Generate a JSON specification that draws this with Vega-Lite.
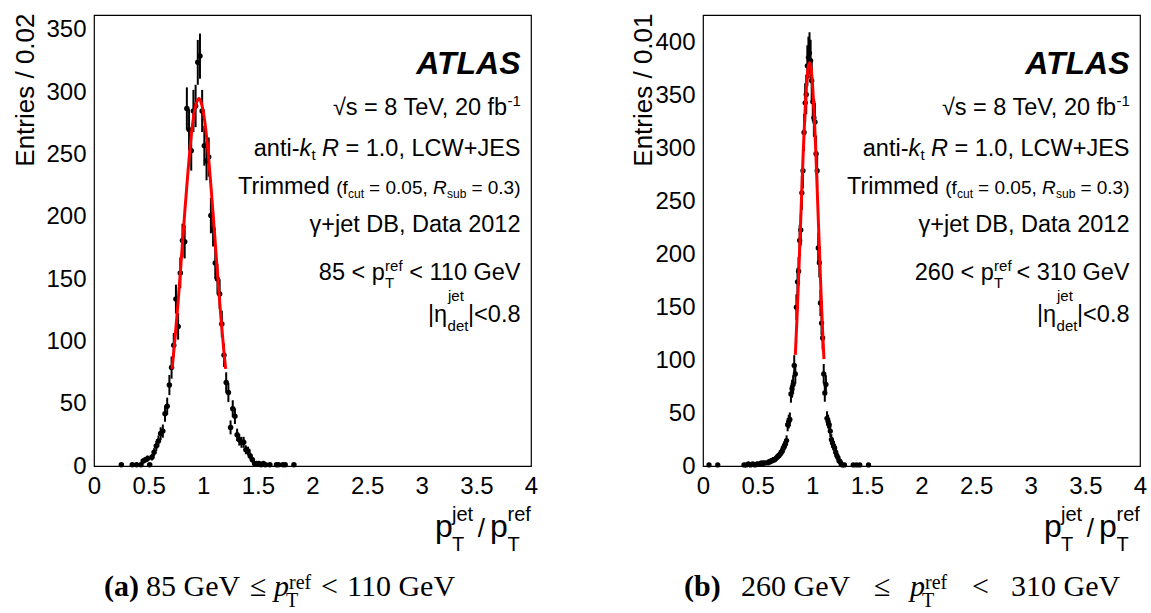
{
"$schema": "https://vega.github.io/schema/vega-lite/v6.json",
"background": "white",
"padding": {"left": 11, "top": 4, "right": 0, "bottom": 0},
"datasets": {
"a": [{"x":0.25,"y":1,"e":1},{"x":0.35,"y":1,"e":1},{"x":0.39,"y":1,"e":1},{"x":0.43,"y":1,"e":1},{"x":0.45,"y":4,"e":2},{"x":0.47,"y":5,"e":2.2},{"x":0.49,"y":6,"e":2.4},{"x":0.51,"y":1,"e":1},{"x":0.53,"y":7,"e":2.6},{"x":0.55,"y":11,"e":3.3},{"x":0.57,"y":16,"e":4},{"x":0.59,"y":20,"e":4.5},{"x":0.61,"y":26,"e":5.1},{"x":0.63,"y":28,"e":5.3},{"x":0.65,"y":42,"e":6.5},{"x":0.67,"y":48,"e":6.9},{"x":0.69,"y":65,"e":8.1},{"x":0.71,"y":79,"e":8.9},{"x":0.73,"y":97,"e":9.8},{"x":0.75,"y":134,"e":11.6},{"x":0.77,"y":112,"e":10.6},{"x":0.79,"y":155,"e":12.4},{"x":0.81,"y":181,"e":13.5},{"x":0.83,"y":180,"e":13.4},{"x":0.85,"y":287,"e":16.9},{"x":0.87,"y":270,"e":16.4},{"x":0.89,"y":253,"e":15.9},{"x":0.91,"y":285,"e":16.9},{"x":0.93,"y":289,"e":17},{"x":0.95,"y":324,"e":18},{"x":0.97,"y":329,"e":18.1},{"x":0.99,"y":285,"e":16.9},{"x":1.01,"y":257,"e":16},{"x":1.03,"y":245,"e":15.7},{"x":1.05,"y":248,"e":15.7},{"x":1.07,"y":201,"e":14.2},{"x":1.09,"y":190,"e":13.8},{"x":1.11,"y":163,"e":12.8},{"x":1.13,"y":150,"e":12.2},{"x":1.15,"y":138,"e":11.7},{"x":1.17,"y":114,"e":10.7},{"x":1.19,"y":89,"e":9.4},{"x":1.21,"y":67,"e":8.2},{"x":1.23,"y":59,"e":7.7},{"x":1.25,"y":31,"e":5.6},{"x":1.27,"y":46,"e":6.8},{"x":1.29,"y":40,"e":6.3},{"x":1.31,"y":25,"e":5},{"x":1.33,"y":21,"e":4.6},{"x":1.35,"y":19,"e":4.4},{"x":1.37,"y":19,"e":4.4},{"x":1.39,"y":13,"e":3.6},{"x":1.41,"y":12,"e":3.5},{"x":1.43,"y":8,"e":2.8},{"x":1.45,"y":5,"e":2.2},{"x":1.47,"y":2,"e":1.4},{"x":1.49,"y":2,"e":1.4},{"x":1.51,"y":2,"e":1.4},{"x":1.53,"y":1,"e":1},{"x":1.55,"y":2,"e":1.4},{"x":1.57,"y":1,"e":1},{"x":1.61,"y":1,"e":1},{"x":1.67,"y":1,"e":1},{"x":1.69,"y":1,"e":1},{"x":1.73,"y":1,"e":1},{"x":1.75,"y":1,"e":1},{"x":1.83,"y":1,"e":1}],
"b": [{"x":0.055,"y":1,"e":1},{"x":0.135,"y":1,"e":1},{"x":0.375,"y":1,"e":1},{"x":0.395,"y":1,"e":1},{"x":0.415,"y":2,"e":1.4},{"x":0.435,"y":1,"e":1},{"x":0.455,"y":2,"e":1.4},{"x":0.475,"y":1,"e":1},{"x":0.495,"y":2,"e":1.4},{"x":0.515,"y":2,"e":1.4},{"x":0.535,"y":3,"e":1.7},{"x":0.545,"y":2,"e":1.4},{"x":0.555,"y":3,"e":1.7},{"x":0.575,"y":3,"e":1.7},{"x":0.595,"y":3,"e":1.7},{"x":0.605,"y":4,"e":2},{"x":0.615,"y":4,"e":2},{"x":0.625,"y":5,"e":2.2},{"x":0.635,"y":5,"e":2.2},{"x":0.645,"y":6,"e":2.4},{"x":0.655,"y":6,"e":2.4},{"x":0.665,"y":7,"e":2.6},{"x":0.675,"y":8,"e":2.8},{"x":0.685,"y":9,"e":3},{"x":0.695,"y":10,"e":3.2},{"x":0.705,"y":11,"e":3.3},{"x":0.715,"y":13,"e":3.6},{"x":0.725,"y":14,"e":3.7},{"x":0.735,"y":17,"e":4.1},{"x":0.745,"y":19,"e":4.4},{"x":0.755,"y":21,"e":4.6},{"x":0.765,"y":24,"e":4.9},{"x":0.775,"y":39,"e":6.2},{"x":0.785,"y":42,"e":6.5},{"x":0.795,"y":44,"e":6.6},{"x":0.805,"y":68,"e":8.2},{"x":0.815,"y":73,"e":8.5},{"x":0.825,"y":77,"e":8.8},{"x":0.835,"y":95,"e":9.7},{"x":0.845,"y":87,"e":9.3},{"x":0.855,"y":150,"e":12.2},{"x":0.865,"y":174,"e":13.2},{"x":0.875,"y":184,"e":13.6},{"x":0.885,"y":213,"e":14.6},{"x":0.895,"y":223,"e":14.9},{"x":0.905,"y":258,"e":16.1},{"x":0.915,"y":279,"e":16.7},{"x":0.925,"y":315,"e":17.7},{"x":0.935,"y":343,"e":18.5},{"x":0.945,"y":351,"e":18.7},{"x":0.955,"y":378,"e":19.4},{"x":0.965,"y":386,"e":19.6},{"x":0.975,"y":390,"e":19.7},{"x":0.985,"y":383,"e":19.6},{"x":0.995,"y":364,"e":19.1},{"x":1.005,"y":344,"e":18.5},{"x":1.015,"y":329,"e":18.1},{"x":1.025,"y":325,"e":18},{"x":1.035,"y":295,"e":17.2},{"x":1.045,"y":279,"e":16.7},{"x":1.055,"y":206,"e":14.4},{"x":1.065,"y":192,"e":13.9},{"x":1.075,"y":154,"e":12.4},{"x":1.085,"y":135,"e":11.6},{"x":1.095,"y":121,"e":11},{"x":1.105,"y":87,"e":9.3},{"x":1.115,"y":69,"e":8.3},{"x":1.125,"y":77,"e":8.8},{"x":1.135,"y":45,"e":6.7},{"x":1.145,"y":42,"e":6.5},{"x":1.155,"y":39,"e":6.2},{"x":1.165,"y":33,"e":5.7},{"x":1.175,"y":25,"e":5},{"x":1.185,"y":22,"e":4.7},{"x":1.195,"y":19,"e":4.4},{"x":1.205,"y":17,"e":4.1},{"x":1.215,"y":13,"e":3.6},{"x":1.225,"y":10,"e":3.2},{"x":1.235,"y":8,"e":2.8},{"x":1.245,"y":5,"e":2.2},{"x":1.255,"y":4,"e":2},{"x":1.265,"y":2,"e":1.4},{"x":1.275,"y":1,"e":1},{"x":1.295,"y":1,"e":1},{"x":1.375,"y":1,"e":1},{"x":1.405,"y":1,"e":1},{"x":1.435,"y":1,"e":1},{"x":1.515,"y":1,"e":1}],
"fa": [{"x":0.715,"y":78},{"x":0.74,"y":101},{"x":0.77,"y":132},{"x":0.8,"y":167},{"x":0.83,"y":203},{"x":0.86,"y":236},{"x":0.89,"y":265},{"x":0.92,"y":285},{"x":0.95,"y":294},{"x":0.96,"y":295},{"x":0.98,"y":292},{"x":1.01,"y":279},{"x":1.04,"y":256},{"x":1.07,"y":225},{"x":1.1,"y":191},{"x":1.13,"y":155},{"x":1.16,"y":121},{"x":1.19,"y":91},{"x":1.205,"y":78}],
"fb": [{"x":0.845,"y":105},{"x":0.86,"y":139},{"x":0.875,"y":178},{"x":0.89,"y":220},{"x":0.905,"y":262},{"x":0.92,"y":303},{"x":0.935,"y":337},{"x":0.95,"y":363},{"x":0.965,"y":378},{"x":0.975,"y":381},{"x":0.99,"y":375},{"x":1.005,"y":356},{"x":1.02,"y":327},{"x":1.035,"y":290},{"x":1.05,"y":248},{"x":1.065,"y":206},{"x":1.08,"y":164},{"x":1.095,"y":127},{"x":1.107,"y":101}]
},
"hconcat": [
{
"width": 437, "height": 451,
"data": {"values": [{}]},
"resolve": {"axis": {"x": "independent", "y": "independent"}},
"layer": [
{"data": {"name": "a"}, "mark": {"type": "errorbar", "color": "black", "thickness": 2},
 "encoding": {"x": {"field": "x", "type": "quantitative", "axis": null, "scale": {"domain": [0, 4], "nice": false, "zero": false}}, "y": {"field": "y", "type": "quantitative", "axis": null, "scale": {"domain": [0, 362], "nice": false}}, "yError": {"field": "e"}}},
{"data": {"name": "a"}, "mark": {"type": "point", "filled": true, "color": "black", "size": 30, "opacity": 1},
 "encoding": {
  "x": {"field": "x", "type": "quantitative", "scale": {"domain": [0, 4], "nice": false, "zero": false},
   "axis": {"orient": "bottom", "values": [0,0.1,0.2,0.3,0.4,0.5,0.6,0.7,0.8,0.9,1,1.1,1.2,1.3,1.4,1.5,1.6,1.7,1.8,1.9,2,2.1,2.2,2.3,2.4,2.5,2.6,2.7,2.8,2.9,3,3.1,3.2,3.3,3.4,3.5,3.6,3.7,3.8,3.9,4],
    "labelExpr": "round(datum.value*10)%5===0 ? ''+datum.value : ''", "labelFont": "Liberation Sans", "labelFontSize": 24, "labelColor": "black", "labelPadding": 8, "labelFlush": false, "labelOverlap": false,
    "tickSize": 0, "tickColor": "black", "domain": false, "grid": false, "title": null,
    "encode": {"ticks": {"update": {"y2": {"signal": "round(datum.value*10)%5===0 ? -12 : -7"}}}}}},
  "y": {"field": "y", "type": "quantitative", "scale": {"domain": [0, 362], "nice": false},
   "axis": {"orient": "left", "values": [0,10,20,30,40,50,60,70,80,90,100,110,120,130,140,150,160,170,180,190,200,210,220,230,240,250,260,270,280,290,300,310,320,330,340,350,360],
    "labelExpr": "datum.value%50===0 ? ''+datum.value : ''", "labelFont": "Liberation Sans", "labelFontSize": 24, "labelColor": "black", "labelPadding": 8, "labelFlush": false, "labelOverlap": false,
    "tickSize": 0, "tickColor": "black", "domain": false, "grid": false,
    "title": "Entries / 0.02", "titleFont": "Liberation Sans", "titleFontSize": 26, "titleFontWeight": "normal", "titleColor": "black", "titleAngle": 270, "titleAlign": "right", "titleBaseline": "alphabetic", "titleX": -61, "titleY": -2,
    "encode": {"ticks": {"update": {"x2": {"signal": "datum.value%50===0 ? 13 : 7"}}}}}}
 }},
{"data": {"name": "fa"}, "mark": {"type": "line", "color": "#ff0000", "strokeWidth": 3, "interpolate": "monotone"},
 "encoding": {
  "x": {"field": "x", "type": "quantitative",
   "axis": {"orient": "top", "values": [0,0.1,0.2,0.3,0.4,0.5,0.6,0.7,0.8,0.9,1,1.1,1.2,1.3,1.4,1.5,1.6,1.7,1.8,1.9,2,2.1,2.2,2.3,2.4,2.5,2.6,2.7,2.8,2.9,3,3.1,3.2,3.3,3.4,3.5,3.6,3.7,3.8,3.9,4], "labels": false, "tickSize": 0, "tickColor": "black", "domain": false, "grid": false, "title": null,
    "encode": {"ticks": {"update": {"y2": {"signal": "round(datum.value*10)%5===0 ? 12 : 7"}}}}}},
  "y": {"field": "y", "type": "quantitative",
   "axis": {"orient": "right", "values": [0,10,20,30,40,50,60,70,80,90,100,110,120,130,140,150,160,170,180,190,200,210,220,230,240,250,260,270,280,290,300,310,320,330,340,350,360], "labels": false, "tickSize": 0, "tickColor": "black", "domain": false, "grid": false, "title": null,
    "encode": {"ticks": {"update": {"x2": {"signal": "datum.value%50===0 ? -13 : -7"}}}}}}
 }},
{"mark": {"type": "text", "text": "ATLAS", "align": "right", "baseline": "alphabetic", "fontSize": 32, "fontWeight": "bold", "fontStyle": "italic"}, "encoding": {"x": {"datum": 3.904, "axis": null}, "y": {"datum": 314.6, "axis": null}}},
{"mark": {"type": "text", "text": "√s = 8 TeV, 20 fb", "align": "right", "baseline": "alphabetic", "fontSize": 23.5}, "encoding": {"x": {"datum": 3.782, "axis": null}, "y": {"datum": 281.7, "axis": null}}},
{"mark": {"type": "text", "text": "-1", "align": "left", "baseline": "alphabetic", "fontSize": 15}, "encoding": {"x": {"datum": 3.785, "axis": null}, "y": {"datum": 288.9, "axis": null}}},
{"mark": {"type": "text", "text": "anti-", "align": "right", "baseline": "alphabetic", "fontSize": 23.5}, "encoding": {"x": {"datum": 1.881, "axis": null}, "y": {"datum": 248.8, "axis": null}}},
{"mark": {"type": "text", "text": "k", "align": "right", "baseline": "alphabetic", "fontSize": 23.5, "fontStyle": "italic"}, "encoding": {"x": {"datum": 1.988, "axis": null}, "y": {"datum": 248.8, "axis": null}}},
{"mark": {"type": "text", "text": "t", "align": "left", "baseline": "alphabetic", "fontSize": 15}, "encoding": {"x": {"datum": 1.991, "axis": null}, "y": {"datum": 245.6, "axis": null}}},
{"mark": {"type": "text", "text": "R", "align": "right", "baseline": "alphabetic", "fontSize": 23.5, "fontStyle": "italic"}, "encoding": {"x": {"datum": 2.242, "axis": null}, "y": {"datum": 248.8, "axis": null}}},
{"mark": {"type": "text", "text": "= 1.0, LCW+JES", "align": "right", "baseline": "alphabetic", "fontSize": 23.5}, "encoding": {"x": {"datum": 3.904, "axis": null}, "y": {"datum": 248.8, "axis": null}}},
{"mark": {"type": "text", "text": "Trimmed", "align": "right", "baseline": "alphabetic", "fontSize": 23.5}, "encoding": {"x": {"datum": 2.158, "axis": null}, "y": {"datum": 218.3, "axis": null}}},
{"mark": {"type": "text", "text": "(f", "align": "right", "baseline": "alphabetic", "fontSize": 19}, "encoding": {"x": {"datum": 2.324, "axis": null}, "y": {"datum": 218.3, "axis": null}}},
{"mark": {"type": "text", "text": "cut", "align": "left", "baseline": "alphabetic", "fontSize": 12}, "encoding": {"x": {"datum": 2.325, "axis": null}, "y": {"datum": 215.1, "axis": null}}},
{"mark": {"type": "text", "text": "= 0.05,", "align": "right", "baseline": "alphabetic", "fontSize": 19}, "encoding": {"x": {"datum": 3.055, "axis": null}, "y": {"datum": 218.3, "axis": null}}},
{"mark": {"type": "text", "text": "R", "align": "right", "baseline": "alphabetic", "fontSize": 19, "fontStyle": "italic"}, "encoding": {"x": {"datum": 3.229, "axis": null}, "y": {"datum": 218.3, "axis": null}}},
{"mark": {"type": "text", "text": "sub", "align": "left", "baseline": "alphabetic", "fontSize": 12}, "encoding": {"x": {"datum": 3.231, "axis": null}, "y": {"datum": 215.1, "axis": null}}},
{"mark": {"type": "text", "text": "= 0.3)", "align": "right", "baseline": "alphabetic", "fontSize": 19}, "encoding": {"x": {"datum": 3.904, "axis": null}, "y": {"datum": 218.3, "axis": null}}},
{"mark": {"type": "text", "text": "γ+jet DB, Data 2012", "align": "right", "baseline": "alphabetic", "fontSize": 23.5}, "encoding": {"x": {"datum": 3.904, "axis": null}, "y": {"datum": 187.8, "axis": null}}},
{"mark": {"type": "text", "text": "85 < p", "align": "right", "baseline": "alphabetic", "fontSize": 23.5}, "encoding": {"x": {"datum": 2.662, "axis": null}, "y": {"datum": 149.3, "axis": null}}},
{"mark": {"type": "text", "text": "ref", "align": "left", "baseline": "alphabetic", "fontSize": 15}, "encoding": {"x": {"datum": 2.664, "axis": null}, "y": {"datum": 156.5, "axis": null}}},
{"mark": {"type": "text", "text": "T", "align": "left", "baseline": "alphabetic", "fontSize": 15}, "encoding": {"x": {"datum": 2.664, "axis": null}, "y": {"datum": 142.9, "axis": null}}},
{"mark": {"type": "text", "text": "< 110 GeV", "align": "right", "baseline": "alphabetic", "fontSize": 23.5}, "encoding": {"x": {"datum": 3.904, "axis": null}, "y": {"datum": 149.3, "axis": null}}},
{"mark": {"type": "text", "text": "|η", "align": "right", "baseline": "alphabetic", "fontSize": 23.5}, "encoding": {"x": {"datum": 3.232, "axis": null}, "y": {"datum": 115.6, "axis": null}}},
{"mark": {"type": "text", "text": "jet", "align": "left", "baseline": "alphabetic", "fontSize": 15}, "encoding": {"x": {"datum": 3.24, "axis": null}, "y": {"datum": 132.4, "axis": null}}},
{"mark": {"type": "text", "text": "det", "align": "left", "baseline": "alphabetic", "fontSize": 15}, "encoding": {"x": {"datum": 3.236, "axis": null}, "y": {"datum": 108.4, "axis": null}}},
{"mark": {"type": "text", "text": "|<0.8", "align": "right", "baseline": "alphabetic", "fontSize": 23.5}, "encoding": {"x": {"datum": 3.904, "axis": null}, "y": {"datum": 115.6, "axis": null}}},
{"mark": {"type": "text", "text": "p", "align": "left", "baseline": "alphabetic", "fontSize": 32}, "encoding": {"x": {"datum": 3.121, "axis": null}, "y": {"datum": -57.0, "axis": null}}},
{"mark": {"type": "text", "text": "jet", "align": "left", "baseline": "alphabetic", "fontSize": 20}, "encoding": {"x": {"datum": 3.277, "axis": null}, "y": {"datum": -44.1, "axis": null}}},
{"mark": {"type": "text", "text": "T", "align": "left", "baseline": "alphabetic", "fontSize": 20}, "encoding": {"x": {"datum": 3.277, "axis": null}, "y": {"datum": -68.2, "axis": null}}},
{"mark": {"type": "text", "text": "/", "align": "center", "baseline": "alphabetic", "fontSize": 26}, "encoding": {"x": {"datum": 3.545, "axis": null}, "y": {"datum": -57.0, "axis": null}}},
{"mark": {"type": "text", "text": "p", "align": "left", "baseline": "alphabetic", "fontSize": 32}, "encoding": {"x": {"datum": 3.625, "axis": null}, "y": {"datum": -57.0, "axis": null}}},
{"mark": {"type": "text", "text": "ref", "align": "left", "baseline": "alphabetic", "fontSize": 20}, "encoding": {"x": {"datum": 3.785, "axis": null}, "y": {"datum": -44.1, "axis": null}}},
{"mark": {"type": "text", "text": "T", "align": "left", "baseline": "alphabetic", "fontSize": 20}, "encoding": {"x": {"datum": 3.785, "axis": null}, "y": {"datum": -68.2, "axis": null}}},
{"mark": {"type": "text", "text": "(a)", "align": "left", "baseline": "alphabetic", "fontSize": 30, "font": "Liberation Serif", "fontWeight": "bold"}, "encoding": {"x": {"datum": 0.0915, "axis": null}, "y": {"datum": -104.3, "axis": null}}},
{"mark": {"type": "text", "text": "85 GeV", "align": "left", "baseline": "alphabetic", "fontSize": 30, "font": "Liberation Serif"}, "encoding": {"x": {"datum": 0.476, "axis": null}, "y": {"datum": -104.3, "axis": null}}},
{"mark": {"type": "text", "text": "≤", "align": "left", "baseline": "alphabetic", "fontSize": 30, "font": "Liberation Serif"}, "encoding": {"x": {"datum": 1.428, "axis": null}, "y": {"datum": -104.3, "axis": null}}},
{"mark": {"type": "text", "text": "p", "align": "left", "baseline": "alphabetic", "fontSize": 30, "font": "Liberation Serif", "fontStyle": "italic"}, "encoding": {"x": {"datum": 1.648, "axis": null}, "y": {"datum": -104.3, "axis": null}}},
{"mark": {"type": "text", "text": "ref", "align": "left", "baseline": "alphabetic", "fontSize": 20, "font": "Liberation Serif"}, "encoding": {"x": {"datum": 1.785, "axis": null}, "y": {"datum": -98.7, "axis": null}}},
{"mark": {"type": "text", "text": "T", "align": "left", "baseline": "alphabetic", "fontSize": 20, "font": "Liberation Serif"}, "encoding": {"x": {"datum": 1.757, "axis": null}, "y": {"datum": -113.0, "axis": null}}},
{"mark": {"type": "text", "text": "<", "align": "left", "baseline": "alphabetic", "fontSize": 30, "font": "Liberation Serif"}, "encoding": {"x": {"datum": 2.078, "axis": null}, "y": {"datum": -104.3, "axis": null}}},
{"mark": {"type": "text", "text": "110 GeV", "align": "left", "baseline": "alphabetic", "fontSize": 30, "font": "Liberation Serif"}, "encoding": {"x": {"datum": 2.316, "axis": null}, "y": {"datum": -104.3, "axis": null}}}
]
},
{
"width": 437, "height": 451,
"data": {"values": [{}]},
"resolve": {"axis": {"x": "independent", "y": "independent"}},
"layer": [
{"data": {"name": "b"}, "mark": {"type": "errorbar", "color": "black", "thickness": 2},
 "encoding": {"x": {"field": "x", "type": "quantitative", "axis": null, "scale": {"domain": [0, 4], "nice": false, "zero": false}}, "y": {"field": "y", "type": "quantitative", "axis": null, "scale": {"domain": [0, 426], "nice": false}}, "yError": {"field": "e"}}},
{"data": {"name": "b"}, "mark": {"type": "point", "filled": true, "color": "black", "size": 28, "opacity": 1},
 "encoding": {
  "x": {"field": "x", "type": "quantitative", "scale": {"domain": [0, 4], "nice": false, "zero": false},
   "axis": {"orient": "bottom", "values": [0,0.1,0.2,0.3,0.4,0.5,0.6,0.7,0.8,0.9,1,1.1,1.2,1.3,1.4,1.5,1.6,1.7,1.8,1.9,2,2.1,2.2,2.3,2.4,2.5,2.6,2.7,2.8,2.9,3,3.1,3.2,3.3,3.4,3.5,3.6,3.7,3.8,3.9,4],
    "labelExpr": "round(datum.value*10)%5===0 ? ''+datum.value : ''", "labelFont": "Liberation Sans", "labelFontSize": 24, "labelColor": "black", "labelPadding": 8, "labelFlush": false, "labelOverlap": false,
    "tickSize": 0, "tickColor": "black", "domain": false, "grid": false, "title": null,
    "encode": {"ticks": {"update": {"y2": {"signal": "round(datum.value*10)%5===0 ? -12 : -7"}}}}}},
  "y": {"field": "y", "type": "quantitative", "scale": {"domain": [0, 426], "nice": false},
   "axis": {"orient": "left", "values": [0,10,20,30,40,50,60,70,80,90,100,110,120,130,140,150,160,170,180,190,200,210,220,230,240,250,260,270,280,290,300,310,320,330,340,350,360,370,380,390,400,410,420],
    "labelExpr": "datum.value%50===0 ? ''+datum.value : ''", "labelFont": "Liberation Sans", "labelFontSize": 24, "labelColor": "black", "labelPadding": 8, "labelFlush": false, "labelOverlap": false,
    "tickSize": 0, "tickColor": "black", "domain": false, "grid": false,
    "title": "Entries / 0.01", "titleFont": "Liberation Sans", "titleFontSize": 26, "titleFontWeight": "normal", "titleColor": "black", "titleAngle": 270, "titleAlign": "right", "titleBaseline": "alphabetic", "titleX": -52, "titleY": -2,
    "encode": {"ticks": {"update": {"x2": {"signal": "datum.value%50===0 ? 13 : 7"}}}}}}
 }},
{"data": {"name": "fb"}, "mark": {"type": "line", "color": "#ff0000", "strokeWidth": 3, "interpolate": "monotone"},
 "encoding": {
  "x": {"field": "x", "type": "quantitative",
   "axis": {"orient": "top", "values": [0,0.1,0.2,0.3,0.4,0.5,0.6,0.7,0.8,0.9,1,1.1,1.2,1.3,1.4,1.5,1.6,1.7,1.8,1.9,2,2.1,2.2,2.3,2.4,2.5,2.6,2.7,2.8,2.9,3,3.1,3.2,3.3,3.4,3.5,3.6,3.7,3.8,3.9,4], "labels": false, "tickSize": 0, "tickColor": "black", "domain": false, "grid": false, "title": null,
    "encode": {"ticks": {"update": {"y2": {"signal": "round(datum.value*10)%5===0 ? 12 : 7"}}}}}},
  "y": {"field": "y", "type": "quantitative",
   "axis": {"orient": "right", "values": [0,10,20,30,40,50,60,70,80,90,100,110,120,130,140,150,160,170,180,190,200,210,220,230,240,250,260,270,280,290,300,310,320,330,340,350,360,370,380,390,400,410,420], "labels": false, "tickSize": 0, "tickColor": "black", "domain": false, "grid": false, "title": null,
    "encode": {"ticks": {"update": {"x2": {"signal": "datum.value%50===0 ? -13 : -7"}}}}}}
 }},
{"mark": {"type": "text", "text": "ATLAS", "align": "right", "baseline": "alphabetic", "fontSize": 32, "fontWeight": "bold", "fontStyle": "italic"}, "encoding": {"x": {"datum": 3.904, "axis": null}, "y": {"datum": 370.3, "axis": null}}},
{"mark": {"type": "text", "text": "√s = 8 TeV, 20 fb", "align": "right", "baseline": "alphabetic", "fontSize": 23.5}, "encoding": {"x": {"datum": 3.782, "axis": null}, "y": {"datum": 331.5, "axis": null}}},
{"mark": {"type": "text", "text": "-1", "align": "left", "baseline": "alphabetic", "fontSize": 15}, "encoding": {"x": {"datum": 3.785, "axis": null}, "y": {"datum": 340.0, "axis": null}}},
{"mark": {"type": "text", "text": "anti-", "align": "right", "baseline": "alphabetic", "fontSize": 23.5}, "encoding": {"x": {"datum": 1.881, "axis": null}, "y": {"datum": 292.8, "axis": null}}},
{"mark": {"type": "text", "text": "k", "align": "right", "baseline": "alphabetic", "fontSize": 23.5, "fontStyle": "italic"}, "encoding": {"x": {"datum": 1.988, "axis": null}, "y": {"datum": 292.8, "axis": null}}},
{"mark": {"type": "text", "text": "t", "align": "left", "baseline": "alphabetic", "fontSize": 15}, "encoding": {"x": {"datum": 1.991, "axis": null}, "y": {"datum": 289.0, "axis": null}}},
{"mark": {"type": "text", "text": "R", "align": "right", "baseline": "alphabetic", "fontSize": 23.5, "fontStyle": "italic"}, "encoding": {"x": {"datum": 2.242, "axis": null}, "y": {"datum": 292.8, "axis": null}}},
{"mark": {"type": "text", "text": "= 1.0, LCW+JES", "align": "right", "baseline": "alphabetic", "fontSize": 23.5}, "encoding": {"x": {"datum": 3.904, "axis": null}, "y": {"datum": 292.8, "axis": null}}},
{"mark": {"type": "text", "text": "Trimmed", "align": "right", "baseline": "alphabetic", "fontSize": 23.5}, "encoding": {"x": {"datum": 2.158, "axis": null}, "y": {"datum": 256.9, "axis": null}}},
{"mark": {"type": "text", "text": "(f", "align": "right", "baseline": "alphabetic", "fontSize": 19}, "encoding": {"x": {"datum": 2.324, "axis": null}, "y": {"datum": 256.9, "axis": null}}},
{"mark": {"type": "text", "text": "cut", "align": "left", "baseline": "alphabetic", "fontSize": 12}, "encoding": {"x": {"datum": 2.325, "axis": null}, "y": {"datum": 253.1, "axis": null}}},
{"mark": {"type": "text", "text": "= 0.05,", "align": "right", "baseline": "alphabetic", "fontSize": 19}, "encoding": {"x": {"datum": 3.055, "axis": null}, "y": {"datum": 256.9, "axis": null}}},
{"mark": {"type": "text", "text": "R", "align": "right", "baseline": "alphabetic", "fontSize": 19, "fontStyle": "italic"}, "encoding": {"x": {"datum": 3.229, "axis": null}, "y": {"datum": 256.9, "axis": null}}},
{"mark": {"type": "text", "text": "sub", "align": "left", "baseline": "alphabetic", "fontSize": 12}, "encoding": {"x": {"datum": 3.231, "axis": null}, "y": {"datum": 253.1, "axis": null}}},
{"mark": {"type": "text", "text": "= 0.3)", "align": "right", "baseline": "alphabetic", "fontSize": 19}, "encoding": {"x": {"datum": 3.904, "axis": null}, "y": {"datum": 256.9, "axis": null}}},
{"mark": {"type": "text", "text": "γ+jet DB, Data 2012", "align": "right", "baseline": "alphabetic", "fontSize": 23.5}, "encoding": {"x": {"datum": 3.904, "axis": null}, "y": {"datum": 221.0, "axis": null}}},
{"mark": {"type": "text", "text": "260 < p", "align": "right", "baseline": "alphabetic", "fontSize": 23.5}, "encoding": {"x": {"datum": 2.662, "axis": null}, "y": {"datum": 175.7, "axis": null}}},
{"mark": {"type": "text", "text": "ref", "align": "left", "baseline": "alphabetic", "fontSize": 15}, "encoding": {"x": {"datum": 2.664, "axis": null}, "y": {"datum": 184.2, "axis": null}}},
{"mark": {"type": "text", "text": "T", "align": "left", "baseline": "alphabetic", "fontSize": 15}, "encoding": {"x": {"datum": 2.664, "axis": null}, "y": {"datum": 168.1, "axis": null}}},
{"mark": {"type": "text", "text": "< 310 GeV", "align": "right", "baseline": "alphabetic", "fontSize": 23.5}, "encoding": {"x": {"datum": 3.904, "axis": null}, "y": {"datum": 175.7, "axis": null}}},
{"mark": {"type": "text", "text": "|η", "align": "right", "baseline": "alphabetic", "fontSize": 23.5}, "encoding": {"x": {"datum": 3.232, "axis": null}, "y": {"datum": 136.0, "axis": null}}},
{"mark": {"type": "text", "text": "jet", "align": "left", "baseline": "alphabetic", "fontSize": 15}, "encoding": {"x": {"datum": 3.24, "axis": null}, "y": {"datum": 155.9, "axis": null}}},
{"mark": {"type": "text", "text": "det", "align": "left", "baseline": "alphabetic", "fontSize": 15}, "encoding": {"x": {"datum": 3.236, "axis": null}, "y": {"datum": 127.5, "axis": null}}},
{"mark": {"type": "text", "text": "|<0.8", "align": "right", "baseline": "alphabetic", "fontSize": 23.5}, "encoding": {"x": {"datum": 3.904, "axis": null}, "y": {"datum": 136.0, "axis": null}}},
{"mark": {"type": "text", "text": "p", "align": "left", "baseline": "alphabetic", "fontSize": 32}, "encoding": {"x": {"datum": 3.121, "axis": null}, "y": {"datum": -67.1, "axis": null}}},
{"mark": {"type": "text", "text": "jet", "align": "left", "baseline": "alphabetic", "fontSize": 20}, "encoding": {"x": {"datum": 3.277, "axis": null}, "y": {"datum": -52.0, "axis": null}}},
{"mark": {"type": "text", "text": "T", "align": "left", "baseline": "alphabetic", "fontSize": 20}, "encoding": {"x": {"datum": 3.277, "axis": null}, "y": {"datum": -80.3, "axis": null}}},
{"mark": {"type": "text", "text": "/", "align": "center", "baseline": "alphabetic", "fontSize": 26}, "encoding": {"x": {"datum": 3.545, "axis": null}, "y": {"datum": -67.1, "axis": null}}},
{"mark": {"type": "text", "text": "p", "align": "left", "baseline": "alphabetic", "fontSize": 32}, "encoding": {"x": {"datum": 3.625, "axis": null}, "y": {"datum": -67.1, "axis": null}}},
{"mark": {"type": "text", "text": "ref", "align": "left", "baseline": "alphabetic", "fontSize": 20}, "encoding": {"x": {"datum": 3.785, "axis": null}, "y": {"datum": -52.0, "axis": null}}},
{"mark": {"type": "text", "text": "T", "align": "left", "baseline": "alphabetic", "fontSize": 20}, "encoding": {"x": {"datum": 3.785, "axis": null}, "y": {"datum": -80.3, "axis": null}}},
{"mark": {"type": "text", "text": "(b)", "align": "left", "baseline": "alphabetic", "fontSize": 30, "font": "Liberation Serif", "fontWeight": "bold"}, "encoding": {"x": {"datum": -0.174, "axis": null}, "y": {"datum": -122.8, "axis": null}}},
{"mark": {"type": "text", "text": "260 GeV", "align": "left", "baseline": "alphabetic", "fontSize": 30, "font": "Liberation Serif"}, "encoding": {"x": {"datum": 0.348, "axis": null}, "y": {"datum": -122.8, "axis": null}}},
{"mark": {"type": "text", "text": "≤", "align": "left", "baseline": "alphabetic", "fontSize": 30, "font": "Liberation Serif"}, "encoding": {"x": {"datum": 1.565, "axis": null}, "y": {"datum": -122.8, "axis": null}}},
{"mark": {"type": "text", "text": "p", "align": "left", "baseline": "alphabetic", "fontSize": 30, "font": "Liberation Serif", "fontStyle": "italic"}, "encoding": {"x": {"datum": 1.895, "axis": null}, "y": {"datum": -122.8, "axis": null}}},
{"mark": {"type": "text", "text": "ref", "align": "left", "baseline": "alphabetic", "fontSize": 20, "font": "Liberation Serif"}, "encoding": {"x": {"datum": 2.032, "axis": null}, "y": {"datum": -116.2, "axis": null}}},
{"mark": {"type": "text", "text": "T", "align": "left", "baseline": "alphabetic", "fontSize": 20, "font": "Liberation Serif"}, "encoding": {"x": {"datum": 2.005, "axis": null}, "y": {"datum": -133.0, "axis": null}}},
{"mark": {"type": "text", "text": "<", "align": "left", "baseline": "alphabetic", "fontSize": 30, "font": "Liberation Serif"}, "encoding": {"x": {"datum": 2.462, "axis": null}, "y": {"datum": -122.8, "axis": null}}},
{"mark": {"type": "text", "text": "310 GeV", "align": "left", "baseline": "alphabetic", "fontSize": 30, "font": "Liberation Serif"}, "encoding": {"x": {"datum": 2.819, "axis": null}, "y": {"datum": -122.8, "axis": null}}}
]
}
],
"spacing": 172,
"bounds": "flush",
"config": {
 "view": {"stroke": "black", "strokeWidth": 1.2},
 "axis": {"tickWidth": 1},
 "text": {"font": "Liberation Sans", "color": "black"}
}
}
